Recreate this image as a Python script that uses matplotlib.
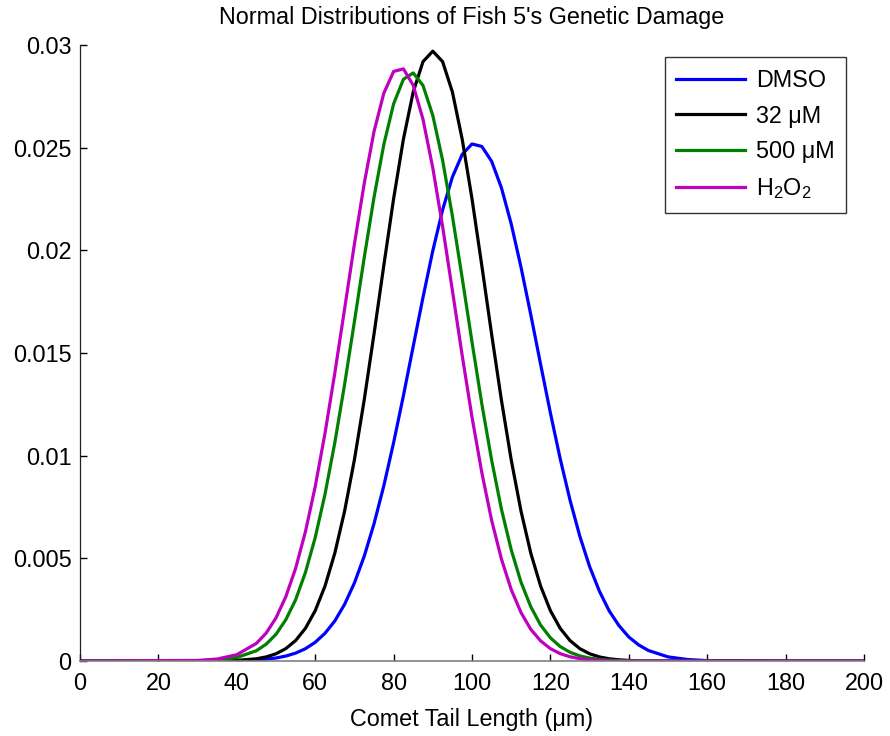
import matplotlib
matplotlib.use("Agg")
import matplotlib.pyplot as plt
from matplotlib.ticker import FuncFormatter

plt.rcParams.update({
    "font.family": ["Liberation Sans", "DejaVu Sans"],
    "mathtext.fontset": "custom",
    "mathtext.rm": "Liberation Sans",
    "mathtext.it": "Liberation Sans",
})

# comet tail length grid (um)
x_len = [0, 30, 35, 40,
         45, 47.5, 50, 52.5, 55, 57.5, 60, 62.5, 65, 67.5,
         70, 72.5, 75, 77.5, 80, 82.5, 85, 87.5, 90, 92.5,
         95, 97.5, 100, 102.5, 105, 107.5, 110, 112.5, 115, 117.5,
         120, 122.5, 125, 127.5, 130, 132.5, 135, 137.5, 140, 142.5,
         145,
         150, 155, 160, 200]

# probability density
dmso = [0, 0, 0, 0.000016,
        0.00005, 0.000087, 0.000146, 0.00024, 0.000384, 0.000598, 0.00091, 0.00135, 0.00195, 0.00276,
        0.0038, 0.0051, 0.00668, 0.00853, 0.01063, 0.01292, 0.01532, 0.01771, 0.01998, 0.02197,
        0.02357, 0.02467, 0.02518, 0.02506, 0.02434, 0.02305, 0.02129, 0.01918, 0.01686, 0.01445,
        0.01208, 0.00985, 0.00784, 0.00608, 0.0046, 0.0034, 0.00244, 0.00172, 0.00117, 0.000785,
        0.000512,
        0.000201, 0.000072, 0.00002, 0]
um32 = [0, 0, 0.000007, 0.000029,
        0.000108, 0.000198, 0.000352, 0.000603, 0.000996, 0.00159, 0.00245, 0.00365, 0.00525, 0.0073,
        0.0098, 0.01271, 0.01592, 0.01926, 0.02251, 0.02541, 0.02771, 0.02919, 0.0297, 0.02919,
        0.02771, 0.02541, 0.02251, 0.01926, 0.01592, 0.01271, 0.0098, 0.0073, 0.00525, 0.00365,
        0.00245, 0.00159, 0.000996, 0.000603, 0.000352, 0.000198, 0.000108, 0.000057, 0.000029, 0,
        0,
        0, 0, 0, 0]
um500 = [0, 0.000013, 0.00005, 0.000169,
         0.000501, 0.000821, 0.0013, 0.00201, 0.00298, 0.00431, 0.00601, 0.00812, 0.01063, 0.01347,
         0.01653, 0.01964, 0.02258, 0.02515, 0.02713, 0.02833, 0.02864, 0.02803, 0.02657, 0.02439,
         0.02167, 0.01865, 0.01554, 0.01253, 0.00979, 0.0074, 0.00542, 0.00384, 0.00264, 0.00175,
         0.00113, 0.000703, 0.000425, 0.000248, 0.00014, 0.000077, 0.000041, 0.00002, 0.00001, 0,
         0,
         0, 0, 0, 0]
h2o2 = [0, 0.000027, 0.000097, 0.000307,
        0.000858, 0.00136, 0.0021, 0.00313, 0.00451, 0.00629, 0.00849, 0.01109, 0.01402, 0.01715,
        0.0203, 0.02325, 0.02578, 0.02765, 0.02871, 0.02884, 0.02804, 0.02638, 0.02401, 0.02116,
        0.01804, 0.01488, 0.01188, 0.00918, 0.00686, 0.00497, 0.00348, 0.00236, 0.00154, 0.00098,
        0.000602, 0.000358, 0.000206, 0.000114, 0.000062, 0.00003, 0, 0, 0, 0,
        0,
        0, 0, 0, 0]

labels = ["DMSO", "32 μM", "500 μM", r"H$_\mathrm{2}$O$_\mathrm{2}$"]
colors = ["#0000ff", "#000000", "#008000", "#bf00bf"]

fig = plt.figure(figsize=(8.9, 7.36), dpi=100)
ax = fig.add_axes([80 / 890, 75 / 736, 784 / 890, 616 / 736])

for ys, lab, col in zip([dmso, um32, um500, h2o2], labels, colors):
    ax.plot(x_len, ys, color=col, lw=2.3, label=lab)

ax.set_xlim(0, 200)
ax.set_ylim(0, 0.03)
ax.set_xticks(range(0, 201, 20))
ax.set_yticks([0, 0.005, 0.01, 0.015, 0.02, 0.025, 0.03])
ax.yaxis.set_major_formatter(FuncFormatter(lambda v, p: f"{v:g}"))

ax.spines["top"].set_visible(False)
ax.spines["right"].set_visible(False)
ax.spines["left"].set_color("#202020")
ax.spines["bottom"].set_color("#808080")
ax.spines["left"].set_linewidth(0.9)
ax.spines["bottom"].set_linewidth(1.2)
ax.tick_params(direction="in", length=5, width=1, colors="black",
               labelsize=16.8)
ax.tick_params(axis="x", pad=8)
ax.tick_params(axis="y", pad=6)

ax.set_title("Normal Distributions of Fish 5's Genetic Damage", fontsize=16.8, pad=15)
ax.set_xlabel("Comet Tail Length (μm)", fontsize=16.8, labelpad=9)

leg = ax.legend(loc="upper right", bbox_to_anchor=(0.977, 0.9805), borderaxespad=0,
                fontsize=16.8, frameon=True, fancybox=False, handlelength=2.95,
                handletextpad=0.45, labelspacing=0.55, borderpad=0.5)
leg.get_frame().set_edgecolor("black")
leg.get_frame().set_linewidth(1.0)

fig.savefig("out.png", dpi=100)
